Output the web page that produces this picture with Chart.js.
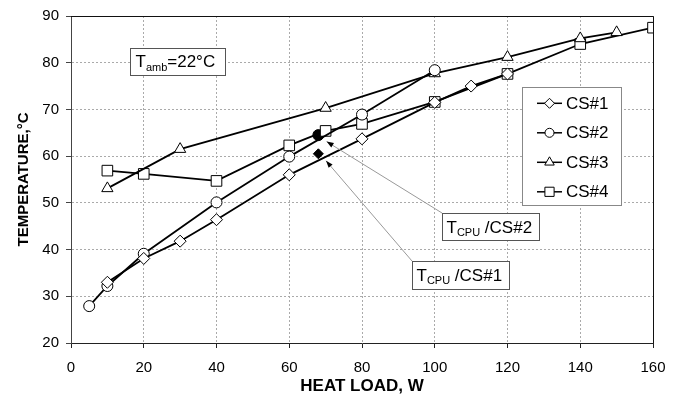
<!DOCTYPE html>
<html>
<head>
<meta charset="utf-8">
<script src="https://cdn.jsdelivr.net/npm/chart.js@4.4.0/dist/chart.umd.min.js"></script>
<style>
    html, body { margin: 0; padding: 0; background: #fff; }
    #wrap { width: 678px; height: 397px; }
</style>
</head>
<body>
<div id="wrap"><canvas id="myChart" width="678" height="397"></canvas></div>
<script>
    // Dữ liệu
    const cs1Load = [10, 20, 30, 40, 60, 80, 100, 110, 120];
    const cs1Temp = [33, 38.1, 41.8, 46.4, 56, 63.7, 71.5, 75, 77.6];
    const cs2Load = [5, 10, 20, 40, 60, 80, 100];
    const cs2Temp = [27.9, 32.2, 39.1, 50.1, 59.9, 68.9, 78.4];
    const cs3Load = [10, 30, 70, 100, 120, 140, 150];
    const cs3Temp = [53.1, 61.5, 70.3, 77.7, 81.2, 85.2, 86.5];
    const cs4Load = [10, 20, 40, 60, 70, 80, 100, 120, 140, 160];
    const cs4Temp = [56.9, 56.2, 54.7, 62.3, 65.4, 66.9, 71.6, 77.6, 84, 87.5];

    // T_CPU: [CS#2, CS#1]
    const cpuLoad = [68, 68];
    const cpuTemp = [64.5, 60.5];
    const cpuNames = ["CS#2", "CS#1"];

    const seriesNames = ["CS#1", "CS#2", "CS#3", "CS#4"];
    const seriesMarkers = ["rectRot", "circle", "triangle", "rect"];
    const xTicks = [0, 20, 40, 60, 80, 100, 120, 140, 160];
    const yTicks = [20, 30, 40, 50, 60, 70, 80, 90];

    const FONT = "'Liberation Sans', Arial, sans-serif";

    function toPoints(xs, ys) {
        return xs.map((x, i) => ({ x: x, y: ys[i] }));
    }

    const loads = [cs1Load, cs2Load, cs3Load, cs4Load];
    const temps = [cs1Temp, cs2Temp, cs3Temp, cs4Temp];
    const markerRadius = [6, 5.5, 6.5, 7.5];

    const datasets = seriesNames.map((name, i) => ({
        label: name,
        data: toPoints(loads[i], temps[i]),
        borderColor: '#000',
        borderWidth: 1.8,
        tension: 0,
        pointStyle: seriesMarkers[i],
        pointRadius: markerRadius[i],
        pointBackgroundColor: '#fff',
        pointBorderColor: '#000',
        pointBorderWidth: 1
    }));

    // điểm T_CPU tô đen
    datasets.push({
        label: 'TCPU/CS#2',
        data: [{ x: cpuLoad[0], y: cpuTemp[0] }],
        showLine: false,
        pointStyle: 'circle',
        pointRadius: 5.5,
        pointBackgroundColor: '#000',
        pointBorderColor: '#000'
    });
    datasets.push({
        label: 'TCPU/CS#1',
        data: [{ x: cpuLoad[1], y: cpuTemp[1] }],
        showLine: false,
        pointStyle: 'rectRot',
        pointRadius: 5,
        pointBackgroundColor: '#000',
        pointBorderColor: '#000'
    });

    // vẽ chữ có chỉ số dưới: T_sub + rest
    function subText(ctx, x, y, main, sub, rest) {
        ctx.fillStyle = '#000';
        ctx.textBaseline = 'alphabetic';
        ctx.textAlign = 'left';
        ctx.font = '17px ' + FONT;
        ctx.fillText(main, x, y);
        x += ctx.measureText(main).width;
        ctx.font = '11px ' + FONT;
        ctx.fillText(sub, x, y + 3.5);
        x += ctx.measureText(sub).width;
        ctx.font = '17px ' + FONT;
        ctx.fillText(rest, x, y);
    }

    function box(ctx, x, y, w, h, color) {
        ctx.fillStyle = '#fff';
        ctx.fillRect(x, y, w, h);
        ctx.strokeStyle = color;
        ctx.lineWidth = 1;
        ctx.strokeRect(x + 0.5, y + 0.5, w, h);
    }

    function arrow(ctx, x0, y0, x1, y1) {
        ctx.strokeStyle = '#999';
        ctx.lineWidth = 1;
        ctx.beginPath();
        ctx.moveTo(x0, y0);
        ctx.lineTo(x1, y1);
        ctx.stroke();
        const a = Math.atan2(y1 - y0, x1 - x0);
        const len = 7, half = 2.6;
        ctx.fillStyle = '#000';
        ctx.beginPath();
        ctx.moveTo(x1, y1);
        ctx.lineTo(x1 - len * Math.cos(a) + half * Math.sin(a), y1 - len * Math.sin(a) - half * Math.cos(a));
        ctx.lineTo(x1 - len * Math.cos(a) - half * Math.sin(a), y1 - len * Math.sin(a) + half * Math.cos(a));
        ctx.closePath();
        ctx.fill();
    }

    const decorPlugin = {
        id: 'decor',
        afterDraw(chart) {
            const ctx = chart.ctx;
            const area = chart.chartArea;
            const xs = chart.scales.x, ys = chart.scales.y;
            ctx.save();

            // khung trên và phải
            ctx.strokeStyle = '#111';
            ctx.lineWidth = 1;
            ctx.beginPath();
            ctx.moveTo(area.left, Math.round(area.top) + 0.5);
            ctx.lineTo(Math.round(area.right) + 0.5, Math.round(area.top) + 0.5);
            ctx.lineTo(Math.round(area.right) + 0.5, area.bottom);
            ctx.stroke();

            // T_amb
            box(ctx, 130, 48, 95, 27, '#555');
            subText(ctx, 135.5, 67.3, 'T', 'amb', '=22°C');

            // chú thích T_CPU
            const boxes = [
                { x: 442, y: 213, w: 97, h: 27, dx: 8.3, dy: 6.5 },
                { x: 412, y: 261, w: 97, h: 28, dx: 7.7, dy: 7 }
            ];
            boxes.forEach((b, i) => {
                const px = xs.getPixelForValue(cpuLoad[i]) + b.dx;
                const py = ys.getPixelForValue(cpuTemp[i]) + b.dy;
                arrow(ctx, b.x, b.y, px, py);
                box(ctx, b.x, b.y, b.w, b.h, '#555');
                subText(ctx, b.x + 4.5, b.y + 19.5, 'T', 'CPU', ' /' + cpuNames[i]);
            });

            // legend
            box(ctx, 522, 87, 99, 118, '#888');
            seriesNames.forEach((name, i) => {
                const y = 103.3 + i * 29.5;
                ctx.strokeStyle = '#000';
                ctx.lineWidth = 1.5;
                ctx.beginPath();
                ctx.moveTo(537, y);
                ctx.lineTo(562, y);
                ctx.stroke();
                ctx.fillStyle = '#fff';
                ctx.strokeStyle = '#000';
                ctx.lineWidth = 1;
                Chart.helpers.drawPoint(ctx, {
                    pointStyle: seriesMarkers[i],
                    radius: [5, 4.5, 5.5, 6.5][i],
                    rotation: 0,
                    borderWidth: 1
                }, 549.5, y);
                ctx.fillStyle = '#000';
                ctx.font = '17px ' + FONT;
                ctx.textBaseline = 'middle';
                ctx.textAlign = 'left';
                ctx.fillText(name, 566, y + 1);
            });

            ctx.restore();
        }
    };

    const ctx = document.getElementById('myChart');

    const chart = new Chart(ctx, {
        type: 'line',
        data: { datasets: datasets },
        options: {
            responsive: false,
            animation: false,
            devicePixelRatio: 1,
            layout: { padding: { left: 0, right: 25, top: 14, bottom: 0 } },
            plugins: {
                legend: { display: false },
                tooltip: { enabled: false }
            },
            scales: {
                x: {
                    type: 'linear',
                    min: 0,
                    max: 160,
                    afterBuildTicks: (scale) => { scale.ticks = xTicks.map(v => ({ value: v })); },
                    afterFit: (scale) => { scale.height = 54; },
                    ticks: {
                        color: '#000',
                        padding: 11,
                        font: { family: FONT, size: 15 },
                        maxRotation: 0
                    },
                    grid: {
                        color: '#aaa',
                        tickColor: '#222',
                        tickLength: 5,
                        tickBorderDash: []
                    },
                    border: { color: '#222', width: 1, dash: [2, 2] },
                    title: {
                        display: true,
                        text: 'HEAT LOAD, W',
                        color: '#000',
                        font: { family: FONT, size: 17, weight: 'bold' },
                        padding: { top: 0, bottom: 0 }
                    }
                },
                y: {
                    type: 'linear',
                    min: 20,
                    max: 90,
                    afterBuildTicks: (scale) => { scale.ticks = yTicks.map(v => ({ value: v })); },
                    afterFit: (scale) => { scale.width = 71; },
                    ticks: {
                        color: '#000',
                        padding: 7,
                        font: { family: FONT, size: 15 }
                    },
                    grid: {
                        color: '#aaa',
                        tickColor: '#444',
                        tickLength: 5,
                        tickBorderDash: []
                    },
                    border: { color: '#444', width: 1, dash: [2, 2] },
                    title: {
                        display: true,
                        text: 'TEMPERATURE,°C',
                        color: '#000',
                        font: { family: FONT, size: 15, weight: 'bold' },
                        padding: { top: 15, bottom: 0 }
                    }
                }
            }
        },
        plugins: [decorPlugin]
    });
</script>
</body>
</html>
